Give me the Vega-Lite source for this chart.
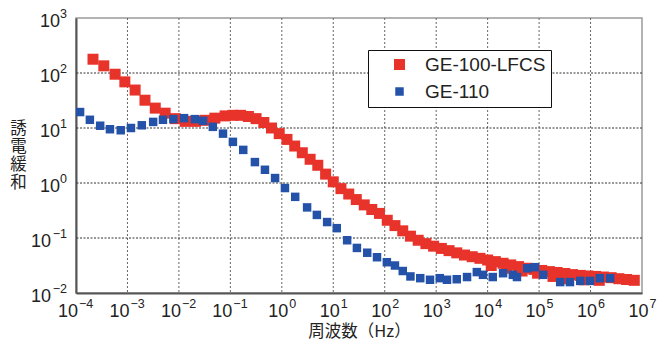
{
  "$schema": "https://vega.github.io/schema/vega-lite/v6.json",
  "width": 566,
  "height": 275,
  "autosize": {"type": "none"},
  "padding": {"left": 76, "top": 18, "right": 15, "bottom": 54},
  "background": "white",
  "config": {
    "font": "Liberation Sans",
    "view": {"stroke": "#9a9a9a", "strokeWidth": 1.5},
    "text": {"font": "Liberation Sans", "color": "#222"}
  },
  "datasets": {
    "pts": [
      {"f": 2.14e-4, "v": 178, "s": "GE-100-LFCS"},
      {"f": 3.47e-4, "v": 135, "s": "GE-100-LFCS"},
      {"f": 5.75e-4, "v": 95, "s": "GE-100-LFCS"},
      {"f": 8.9e-4, "v": 69, "s": "GE-100-LFCS"},
      {"f": 1.41e-3, "v": 49, "s": "GE-100-LFCS"},
      {"f": 2.19e-3, "v": 32, "s": "GE-100-LFCS"},
      {"f": 3.47e-3, "v": 23, "s": "GE-100-LFCS"},
      {"f": 5.4e-3, "v": 18.6, "s": "GE-100-LFCS"},
      {"f": 8.5e-3, "v": 14.8, "s": "GE-100-LFCS"},
      {"f": 1.32e-2, "v": 13.2, "s": "GE-100-LFCS"},
      {"f": 2.1e-2, "v": 13.2, "s": "GE-100-LFCS"},
      {"f": 3.2e-2, "v": 13.8, "s": "GE-100-LFCS"},
      {"f": 5.0e-2, "v": 15.1, "s": "GE-100-LFCS"},
      {"f": 7.9e-2, "v": 16.6, "s": "GE-100-LFCS"},
      {"f": 0.112, "v": 17.0, "s": "GE-100-LFCS"},
      {"f": 0.158, "v": 17.0, "s": "GE-100-LFCS"},
      {"f": 0.224, "v": 16.2, "s": "GE-100-LFCS"},
      {"f": 0.316, "v": 14.8, "s": "GE-100-LFCS"},
      {"f": 0.447, "v": 12.6, "s": "GE-100-LFCS"},
      {"f": 0.63, "v": 10, "s": "GE-100-LFCS"},
      {"f": 0.89, "v": 7.9, "s": "GE-100-LFCS"},
      {"f": 1.26, "v": 6.2, "s": "GE-100-LFCS"},
      {"f": 1.78, "v": 4.7, "s": "GE-100-LFCS"},
      {"f": 2.5, "v": 3.55, "s": "GE-100-LFCS"},
      {"f": 3.55, "v": 2.7, "s": "GE-100-LFCS"},
      {"f": 5.0, "v": 2.1, "s": "GE-100-LFCS"},
      {"f": 7.1, "v": 1.45, "s": "GE-100-LFCS"},
      {"f": 10, "v": 1.05, "s": "GE-100-LFCS"},
      {"f": 14.1, "v": 0.79, "s": "GE-100-LFCS"},
      {"f": 20, "v": 0.63, "s": "GE-100-LFCS"},
      {"f": 28, "v": 0.5, "s": "GE-100-LFCS"},
      {"f": 40, "v": 0.4, "s": "GE-100-LFCS"},
      {"f": 56, "v": 0.33, "s": "GE-100-LFCS"},
      {"f": 79, "v": 0.28, "s": "GE-100-LFCS"},
      {"f": 112, "v": 0.21, "s": "GE-100-LFCS"},
      {"f": 158, "v": 0.168, "s": "GE-100-LFCS"},
      {"f": 224, "v": 0.135, "s": "GE-100-LFCS"},
      {"f": 316, "v": 0.108, "s": "GE-100-LFCS"},
      {"f": 447, "v": 0.091, "s": "GE-100-LFCS"},
      {"f": 631, "v": 0.079, "s": "GE-100-LFCS"},
      {"f": 891, "v": 0.071, "s": "GE-100-LFCS"},
      {"f": 1259, "v": 0.0646, "s": "GE-100-LFCS"},
      {"f": 1778, "v": 0.0589, "s": "GE-100-LFCS"},
      {"f": 2512, "v": 0.0537, "s": "GE-100-LFCS"},
      {"f": 3548, "v": 0.049, "s": "GE-100-LFCS"},
      {"f": 5012, "v": 0.0457, "s": "GE-100-LFCS"},
      {"f": 7079, "v": 0.0427, "s": "GE-100-LFCS"},
      {"f": 10000, "v": 0.0398, "s": "GE-100-LFCS"},
      {"f": 11749, "v": 0.0316, "s": "GE-100-LFCS"},
      {"f": 14125, "v": 0.0372, "s": "GE-100-LFCS"},
      {"f": 19953, "v": 0.0347, "s": "GE-100-LFCS"},
      {"f": 23442, "v": 0.0282, "s": "GE-100-LFCS"},
      {"f": 28184, "v": 0.0324, "s": "GE-100-LFCS"},
      {"f": 39811, "v": 0.0302, "s": "GE-100-LFCS"},
      {"f": 46774, "v": 0.0251, "s": "GE-100-LFCS"},
      {"f": 56234, "v": 0.0282, "s": "GE-100-LFCS"},
      {"f": 79433, "v": 0.0269, "s": "GE-100-LFCS"},
      {"f": 93325, "v": 0.0229, "s": "GE-100-LFCS"},
      {"f": 112202, "v": 0.0257, "s": "GE-100-LFCS"},
      {"f": 158489, "v": 0.0245, "s": "GE-100-LFCS"},
      {"f": 186209, "v": 0.020, "s": "GE-100-LFCS"},
      {"f": 223872, "v": 0.0236, "s": "GE-100-LFCS"},
      {"f": 316228, "v": 0.0226, "s": "GE-100-LFCS"},
      {"f": 371535, "v": 0.0182, "s": "GE-100-LFCS"},
      {"f": 446684, "v": 0.0216, "s": "GE-100-LFCS"},
      {"f": 630957, "v": 0.0209, "s": "GE-100-LFCS"},
      {"f": 741310, "v": 0.0174, "s": "GE-100-LFCS"},
      {"f": 891251, "v": 0.0204, "s": "GE-100-LFCS"},
      {"f": 1258925, "v": 0.02, "s": "GE-100-LFCS"},
      {"f": 1479108, "v": 0.017, "s": "GE-100-LFCS"},
      {"f": 1778279, "v": 0.0195, "s": "GE-100-LFCS"},
      {"f": 2511886, "v": 0.019, "s": "GE-100-LFCS"},
      {"f": 3548134, "v": 0.0182, "s": "GE-100-LFCS"},
      {"f": 5011872, "v": 0.0176, "s": "GE-100-LFCS"},
      {"f": 7079458, "v": 0.0170, "s": "GE-100-LFCS"},
      {"f": 1.2e-4, "v": 19.5, "s": "GE-110"},
      {"f": 1.86e-4, "v": 14.1, "s": "GE-110"},
      {"f": 2.95e-4, "v": 11.0, "s": "GE-110"},
      {"f": 4.57e-4, "v": 9.5, "s": "GE-110"},
      {"f": 7.4e-4, "v": 9.1, "s": "GE-110"},
      {"f": 1.17e-3, "v": 10, "s": "GE-110"},
      {"f": 1.9e-3, "v": 11.2, "s": "GE-110"},
      {"f": 3.16e-3, "v": 12.9, "s": "GE-110"},
      {"f": 4.9e-3, "v": 14.1, "s": "GE-110"},
      {"f": 7.8e-3, "v": 14.5, "s": "GE-110"},
      {"f": 1.26e-2, "v": 15.1, "s": "GE-110"},
      {"f": 2.04e-2, "v": 14.5, "s": "GE-110"},
      {"f": 2.95e-2, "v": 13.5, "s": "GE-110"},
      {"f": 4.57e-2, "v": 10.5, "s": "GE-110"},
      {"f": 7.2e-2, "v": 7.9, "s": "GE-110"},
      {"f": 0.112, "v": 5.6, "s": "GE-110"},
      {"f": 0.178, "v": 4.0, "s": "GE-110"},
      {"f": 0.30, "v": 2.4, "s": "GE-110"},
      {"f": 0.47, "v": 1.74, "s": "GE-110"},
      {"f": 0.74, "v": 1.23, "s": "GE-110"},
      {"f": 1.15, "v": 0.81, "s": "GE-110"},
      {"f": 1.82, "v": 0.56, "s": "GE-110"},
      {"f": 3.1, "v": 0.36, "s": "GE-110"},
      {"f": 4.8, "v": 0.263, "s": "GE-110"},
      {"f": 7.6, "v": 0.195, "s": "GE-110"},
      {"f": 11.7, "v": 0.151, "s": "GE-110"},
      {"f": 18.6, "v": 0.091, "s": "GE-110"},
      {"f": 28.8, "v": 0.066, "s": "GE-110"},
      {"f": 45.7, "v": 0.054, "s": "GE-110"},
      {"f": 70.8, "v": 0.0447, "s": "GE-110"},
      {"f": 110, "v": 0.0363, "s": "GE-110"},
      {"f": 158, "v": 0.0316, "s": "GE-110"},
      {"f": 224, "v": 0.0251, "s": "GE-110"},
      {"f": 316, "v": 0.02, "s": "GE-110"},
      {"f": 490, "v": 0.0186, "s": "GE-110"},
      {"f": 759, "v": 0.0174, "s": "GE-110"},
      {"f": 1175, "v": 0.0186, "s": "GE-110"},
      {"f": 1622, "v": 0.0174, "s": "GE-110"},
      {"f": 2512, "v": 0.0178, "s": "GE-110"},
      {"f": 3981, "v": 0.0195, "s": "GE-110"},
      {"f": 6166, "v": 0.024, "s": "GE-110"},
      {"f": 8128, "v": 0.0214, "s": "GE-110"},
      {"f": 12589, "v": 0.0195, "s": "GE-110"},
      {"f": 19953, "v": 0.0229, "s": "GE-110"},
      {"f": 30903, "v": 0.0214, "s": "GE-110"},
      {"f": 37154, "v": 0.0195, "s": "GE-110"},
      {"f": 58884, "v": 0.0282, "s": "GE-110"},
      {"f": 83176, "v": 0.0295, "s": "GE-110"},
      {"f": 120226, "v": 0.0214, "s": "GE-110"},
      {"f": 257040, "v": 0.0158, "s": "GE-110"},
      {"f": 398107, "v": 0.0158, "s": "GE-110"},
      {"f": 630957, "v": 0.0166, "s": "GE-110"},
      {"f": 977237, "v": 0.0166, "s": "GE-110"},
      {"f": 1513561, "v": 0.0186, "s": "GE-110"},
      {"f": 2398833, "v": 0.0186, "s": "GE-110"}
    ],
    "xgrid": [
      {"f": 1e-3}, {"f": 1e-2}, {"f": 1e-1}, {"f": 1}, {"f": 10}, {"f": 100},
      {"f": 1000}, {"f": 10000}, {"f": 100000}, {"f": 1000000}
    ],
    "ygrid": [
      {"v": 0.1}, {"v": 1}, {"v": 10}, {"v": 100}
    ],
    "xneg": [
      {"f": 1e-4, "e": "−4"}, {"f": 1e-3, "e": "−3"}, {"f": 1e-2, "e": "−2"}, {"f": 1e-1, "e": "−1"}
    ],
    "xpos": [
      {"f": 1, "e": "0"}, {"f": 10, "e": "1"}, {"f": 100, "e": "2"}, {"f": 1000, "e": "3"},
      {"f": 10000, "e": "4"}, {"f": 100000, "e": "5"}, {"f": 1000000, "e": "6"}, {"f": 10000000, "e": "7"}
    ],
    "yneg": [
      {"v": 0.01, "e": "−2"}, {"v": 0.1, "e": "−1"}
    ],
    "ypos": [
      {"v": 1, "e": "0"}, {"v": 10, "e": "1"}, {"v": 100, "e": "2"}, {"v": 1000, "e": "3"}
    ]
  },
  "layer": [
    {
      "data": {"name": "xgrid"},
      "mark": {"type": "rule", "color": "#666666", "strokeWidth": 1, "strokeDash": [2, 2]},
      "encoding": {
        "x": {
          "field": "f", "type": "quantitative",
          "scale": {"type": "log", "domain": [1e-4, 1e7], "nice": false},
          "axis": {
            "values": [1e-4, 1e-3, 1e-2, 1e-1, 1, 10, 100, 1000, 10000, 100000, 1000000, 10000000],
            "labels": false, "ticks": false, "grid": false,
            "domainColor": "#555", "domainWidth": 2,
            "title": "周波数（Hz）", "titleFont": "Noto Sans CJK JP", "titleFontSize": 16.5, "titleFontWeight": "normal",
            "titleColor": "#222", "titleBaseline": "middle", "titleY": 38.5
          }
        }
      }
    },
    {
      "data": {"name": "ygrid"},
      "mark": {"type": "rule", "color": "#333333", "strokeWidth": 1, "strokeDash": [2, 1.5]},
      "encoding": {
        "y": {
          "field": "v", "type": "quantitative",
          "scale": {"type": "log", "domain": [0.01, 1000], "nice": false},
          "axis": {
            "values": [0.01, 0.1, 1, 10, 100, 1000],
            "labels": false, "ticks": false, "grid": false,
            "domainColor": "#555", "domainWidth": 2,
            "title": ["誘", "電", "緩", "和"], "titleFont": "Noto Sans CJK JP", "titleAngle": 0, "titleFontSize": 16.5,
            "titleFontWeight": "normal", "titleColor": "#222", "titleLineHeight": 18,
            "titleAlign": "center", "titleBaseline": "middle", "titleX": -58, "titleY": 110.5
          }
        }
      }
    },
    {
      "data": {"name": "pts"},
      "mark": {"type": "point", "shape": "square", "filled": true, "opacity": 1, "clip": true},
      "encoding": {
        "x": {"field": "f", "type": "quantitative"},
        "y": {"field": "v", "type": "quantitative"},
        "color": {
          "field": "s", "type": "nominal",
          "scale": {"domain": ["GE-100-LFCS", "GE-110"], "range": ["#e8332b", "#2352a8"]},
          "legend": {
            "title": null,
            "orient": "none", "legendX": 292, "legendY": 32,
            "strokeColor": "#111", "fillColor": "white", "padding": 5,
            "symbolType": "square", "symbolSize": 256, "symbolOffset": 17, "symbolStrokeWidth": 0,
            "labelFontSize": 19, "labelFont": "Liberation Sans", "labelColor": "#222", "labelOffset": 16,
            "labelExpr": "datum.label + '\u2003\u2002'",
            "rowPadding": 7
          }
        },
        "size": {
          "field": "s", "type": "nominal",
          "scale": {"domain": ["GE-100-LFCS", "GE-110"], "range": [121, 72]},
          "legend": null
        }
      }
    },
    {
      "data": {"name": "xneg"},
      "mark": {"type": "text", "text": "10", "align": "right", "baseline": "alphabetic", "dx": 2, "dy": 24, "fontSize": 18},
      "encoding": {
        "x": {"field": "f", "type": "quantitative"},
        "y": {"datum": 0.01, "type": "quantitative"}
      }
    },
    {
      "data": {"name": "xneg"},
      "mark": {"type": "text", "align": "left", "baseline": "alphabetic", "dx": 3, "dy": 14.5, "fontSize": 12.5},
      "encoding": {
        "x": {"field": "f", "type": "quantitative"},
        "y": {"datum": 0.01, "type": "quantitative"},
        "text": {"field": "e", "type": "nominal"}
      }
    },
    {
      "data": {"name": "xpos"},
      "mark": {"type": "text", "text": "10", "align": "right", "baseline": "alphabetic", "dx": 6.5, "dy": 24, "fontSize": 18},
      "encoding": {
        "x": {"field": "f", "type": "quantitative"},
        "y": {"datum": 0.01, "type": "quantitative"}
      }
    },
    {
      "data": {"name": "xpos"},
      "mark": {"type": "text", "align": "left", "baseline": "alphabetic", "dx": 7.5, "dy": 14.5, "fontSize": 12.5},
      "encoding": {
        "x": {"field": "f", "type": "quantitative"},
        "y": {"datum": 0.01, "type": "quantitative"},
        "text": {"field": "e", "type": "nominal"}
      }
    },
    {
      "data": {"name": "yneg"},
      "mark": {"type": "text", "text": "10", "align": "right", "baseline": "alphabetic", "dx": -25, "dy": 8.5, "fontSize": 18},
      "encoding": {
        "x": {"datum": 1e-4, "type": "quantitative"},
        "y": {"field": "v", "type": "quantitative"}
      }
    },
    {
      "data": {"name": "ypos"},
      "mark": {"type": "text", "text": "10", "align": "right", "baseline": "alphabetic", "dx": -16, "dy": 8.5, "fontSize": 18},
      "encoding": {
        "x": {"datum": 1e-4, "type": "quantitative"},
        "y": {"field": "v", "type": "quantitative"}
      }
    },
    {
      "data": {"name": "yneg"},
      "mark": {"type": "text", "align": "right", "baseline": "alphabetic", "dx": -9, "dy": 0, "fontSize": 12.5},
      "encoding": {
        "x": {"datum": 1e-4, "type": "quantitative"},
        "y": {"field": "v", "type": "quantitative"},
        "text": {"field": "e", "type": "nominal"}
      }
    },
    {
      "data": {"name": "ypos"},
      "mark": {"type": "text", "align": "right", "baseline": "alphabetic", "dx": -9, "dy": 0, "fontSize": 12.5},
      "encoding": {
        "x": {"datum": 1e-4, "type": "quantitative"},
        "y": {"field": "v", "type": "quantitative"},
        "text": {"field": "e", "type": "nominal"}
      }
    }
  ]
}
